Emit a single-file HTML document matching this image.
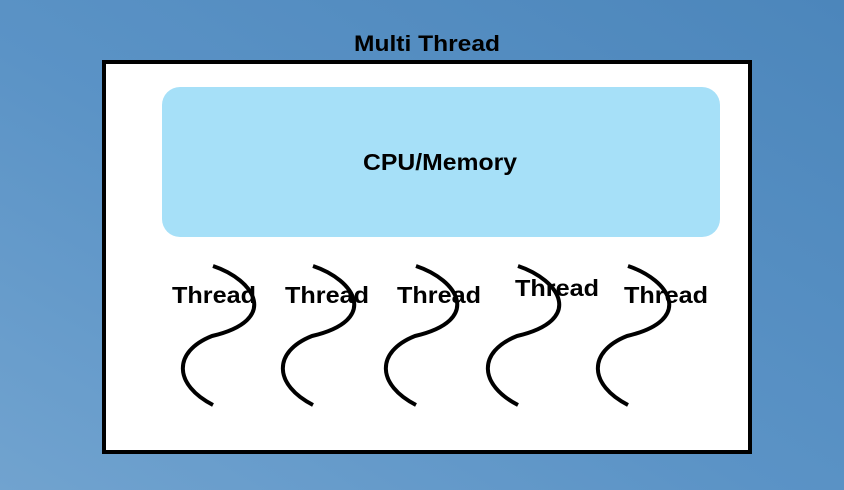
<!DOCTYPE html>
<html><head><style>
body{margin:0;width:844px;height:490px;overflow:hidden;background:linear-gradient(30deg,#71a3cf 0%,#5b93c6 45%,#4c86bb 100%);font-family:"Liberation Sans",sans-serif;}
</style></head><body>
<svg width="844" height="490" style="position:absolute;left:0;top:0">
<text x="427" y="51" text-anchor="middle" font-size="22" font-weight="bold" fill="#000" textLength="146" lengthAdjust="spacingAndGlyphs">Multi Thread</text>
<rect x="104" y="62" width="646" height="390" fill="#fff" stroke="#000" stroke-width="4"/>
<rect x="162" y="87" width="558" height="150" rx="18" fill="#a6e0f8"/>
<text x="440" y="170" text-anchor="middle" font-size="23" font-weight="bold" fill="#000" textLength="154" lengthAdjust="spacingAndGlyphs">CPU/Memory</text>
<g fill="none" stroke="#000" stroke-width="4">
<path id="t" d="M213,266 C255,280 280,320 212,336 C172,352 174,385 213,405"/>
<use href="#t" x="100"/>
<use href="#t" x="203"/>
<use href="#t" x="305"/>
<use href="#t" x="415"/>
</g>
<g font-size="23" font-weight="bold" fill="#000" text-anchor="middle">
<text x="214" y="303" textLength="84" lengthAdjust="spacingAndGlyphs">Thread</text>
<text x="327" y="303" textLength="84" lengthAdjust="spacingAndGlyphs">Thread</text>
<text x="439" y="303" textLength="84" lengthAdjust="spacingAndGlyphs">Thread</text>
<text x="557" y="296" textLength="84" lengthAdjust="spacingAndGlyphs">Thread</text>
<text x="666" y="303" textLength="84" lengthAdjust="spacingAndGlyphs">Thread</text>
</g>
</svg>
</body></html>
